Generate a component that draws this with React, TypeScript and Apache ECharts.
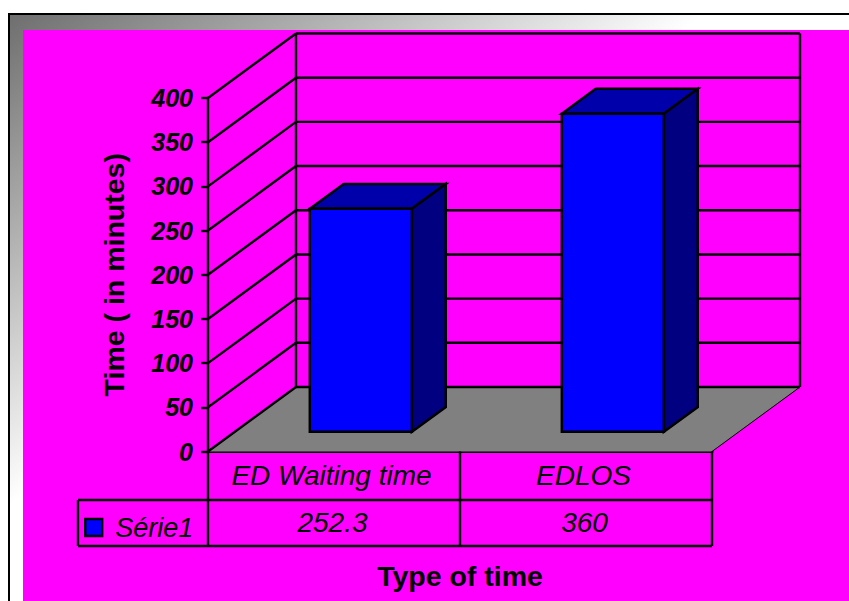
import React, { useEffect, useRef } from "react";
import * as echarts from "echarts";

const categories = ["ED Waiting time", "EDLOS"];
const seriesName = "Série1";
const seriesValues = [252.3, 360];
const valueLabels = ["252.3", "360"];
const yTicks = [0, 50, 100, 150, 200, 250, 300, 350, 400];
const yTitle = "Time ( in minutes)";
const xTitle = "Type of time";

const FONT = "Liberation Sans";
const DEPTH_X = 88;
const DEPTH_Y = -64.5;
const BAR_FRONT = 0.305;
const BAR_BACK = 0.69;
const BAR_WIDTH = 0.405;
const ROW1 = 48.5;
const ROW2 = 94.5;
const LEGEND_W = 130;
const LW = 2.4;

const ln = (x1: number, y1: number, x2: number, y2: number, w = LW) => ({
  type: "line",
  shape: { x1, y1, x2, y2 },
  style: { stroke: "#000", lineWidth: w, fill: "none" },
});

const renderWalls = (params: any, api: any) => {
  const cs = params.coordSys;
  const t = api.value(1);
  const y = api.coord([0, t])[1];
  const l = cs.x;
  const r = cs.x + cs.width;
  const kids: any[] = [];
  if (t === 0) {
    kids.push({
      type: "polygon",
      shape: {
        points: [
          [l, y],
          [l + DEPTH_X, y + DEPTH_Y],
          [r + DEPTH_X, y + DEPTH_Y],
          [r, y],
        ],
      },
      style: { fill: "#808080" },
    });
    kids.push(ln(r, y, r + DEPTH_X, y + DEPTH_Y, 1));
    kids.push(ln(l + DEPTH_X, cs.y + DEPTH_Y, l + DEPTH_X, y + DEPTH_Y));
    kids.push(ln(r + DEPTH_X, cs.y + DEPTH_Y, r + DEPTH_X, y + DEPTH_Y));
  }
  kids.push(ln(l, y, l + DEPTH_X, y + DEPTH_Y));
  kids.push(ln(l + DEPTH_X, y + DEPTH_Y, r + DEPTH_X, y + DEPTH_Y));
  return { type: "group", children: kids };
};

const renderTable = (params: any, api: any) => {
  const cs = params.coordSys;
  const i = api.value(0);
  const c = api.coord([i, 0]);
  const band = api.size([1, 0])[0];
  const y0 = c[1];
  const left = c[0] - band / 2;
  const right = c[0] + band / 2;
  const kids: any[] = [
    ln(right, y0, right, y0 + ROW2),
    ln(left, y0 + ROW1, right, y0 + ROW1),
    ln(left, y0 + ROW2, right, y0 + ROW2),
    {
      type: "text",
      x: c[0] - 1.5,
      y: y0 + (ROW1 + ROW2) / 2 - 1,
      style: {
        text: valueLabels[i],
        fontSize: 28,
        fontStyle: "italic",
        fontFamily: FONT,
        fill: "#000",
        align: "center",
        verticalAlign: "middle",
      },
    },
  ];
  if (i === 0) {
    kids.push(ln(left, y0, left, y0 + ROW2));
    kids.push(ln(cs.x - LEGEND_W, y0 + ROW1, left, y0 + ROW1));
    kids.push(ln(cs.x - LEGEND_W, y0 + ROW2, left, y0 + ROW2));
    kids.push(ln(cs.x - LEGEND_W, y0 + ROW1, cs.x - LEGEND_W, y0 + ROW2));
  }
  return { type: "group", children: kids };
};

const renderBars = (_params: any, api: any) => {
  const i = api.value(0);
  const base = api.coord([i, 0]);
  const top = api.coord([i, api.value(1)]);
  const w = api.size([1, 0])[0] * BAR_WIDTH;
  const fx = DEPTH_X * BAR_FRONT;
  const fy = DEPTH_Y * BAR_FRONT;
  const bx = DEPTH_X * BAR_BACK;
  const by = DEPTH_Y * BAR_BACK;
  const x1 = base[0] - w / 2;
  const x2 = base[0] + w / 2;
  const stroke = { stroke: "#000", lineWidth: 2.5, lineJoin: "miter" };
  return {
    type: "group",
    children: [
      {
        type: "polygon",
        shape: {
          points: [
            [x1 + fx, top[1] + fy],
            [x1 + bx, top[1] + by],
            [x2 + bx, top[1] + by],
            [x2 + fx, top[1] + fy],
          ],
        },
        style: { fill: "#0000AA", ...stroke },
      },
      {
        type: "polygon",
        shape: {
          points: [
            [x2 + fx, top[1] + fy],
            [x2 + bx, top[1] + by],
            [x2 + bx, base[1] + by],
            [x2 + fx, base[1] + fy],
          ],
        },
        style: { fill: "#000080", ...stroke },
      },
      {
        type: "rect",
        shape: { x: x1 + fx, y: top[1] + fy, width: w, height: base[1] - top[1] },
        style: { fill: "#0000FF", ...stroke },
      },
    ],
  };
};

export default function App() {
  const ref = useRef<HTMLDivElement>(null);
  useEffect(() => {
    document.body.style.margin = "0";
    const chart = echarts.init(ref.current!, undefined, { renderer: "svg" });
    chart.setOption({
      animation: false,
      backgroundColor: "#ffffff",
      textStyle: { fontFamily: FONT },
      graphic: [
        {
          type: "rect",
          z: -20,
          shape: { x: 9, y: 14, width: 850, height: 600 },
          style: {
            stroke: "#000",
            lineWidth: 2,
            fill: {
              type: "linear",
              x: 0,
              y: 0,
              x2: 1,
              y2: 1,
              colorStops: [
                { offset: 0, color: "#6e6e6e" },
                { offset: 0.41, color: "#ffffff" },
                { offset: 1, color: "#ffffff" },
              ],
            },
          },
        },
        {
          type: "rect",
          z: -10,
          shape: { x: 23, y: 30, width: 826, height: 571 },
          style: { fill: "#FF00FF" },
        },
      ],
      grid: { left: 208, top: 98, width: 504, height: 353.5, containLabel: false, outerBoundsMode: "none" },
      legend: {
        data: [seriesName],
        left: 84,
        top: 514,
        padding: 0,
        icon: "rect",
        itemWidth: 17,
        itemHeight: 17,
        itemStyle: { borderColor: "#000", borderWidth: 2.4 },
        textStyle: {
          fontSize: 27,
          fontStyle: "italic",
          fontFamily: FONT,
          color: "#000",
          padding: [0, 0, 0, 8],
        },
      },
      xAxis: {
        type: "category",
        data: categories,
        name: xTitle,
        nameLocation: "middle",
        nameGap: 110,
        nameMoveOverlap: false,
        nameTextStyle: { fontSize: 28.5, fontWeight: "bold", fontFamily: FONT, color: "#000" },
        axisLine: { show: true, lineStyle: { color: "#000", width: 3 } },
        axisTick: { show: false },
        axisLabel: {
          margin: 10,
          interval: 0,
          hideOverlap: false,
          padding: [0, 5, 0, 0],
          fontSize: 28,
          fontStyle: "italic",
          fontFamily: FONT,
          color: "#000",
        },
        splitLine: { show: false },
      },
      yAxis: {
        type: "value",
        min: 0,
        max: 400,
        interval: 50,
        name: yTitle,
        nameLocation: "middle",
        nameRotate: 90,
        nameGap: 80,
        nameMoveOverlap: false,
        nameTextStyle: { fontSize: 28.5, fontWeight: "bold", fontFamily: FONT, color: "#000" },
        axisLine: { show: true, lineStyle: { color: "#000", width: 2.4 } },
        axisTick: { show: true, length: 7, lineStyle: { color: "#000", width: 2.4 } },
        axisLabel: { margin: 15, fontSize: 25, fontWeight: "bold", fontStyle: "italic", fontFamily: FONT, color: "#000" },
        splitLine: { show: false },
      },
      series: [
        {
          type: "custom",
          name: "walls",
          z: 2,
          silent: true,
          renderItem: renderWalls,
          encode: { x: 0, y: 1 },
          data: yTicks.map((t) => [categories[0], t]),
        },
        {
          type: "custom",
          name: "table",
          z: 3,
          silent: true,
          renderItem: renderTable,
          encode: { x: 0, y: 1 },
          data: categories.map((c, i) => [c, seriesValues[i]]),
        },
        {
          type: "custom",
          name: seriesName,
          z: 4,
          silent: true,
          itemStyle: { color: "#0000FF" },
          renderItem: renderBars,
          encode: { x: 0, y: 1 },
          data: categories.map((c, i) => [c, seriesValues[i]]),
        },
      ],
    });
    return () => chart.dispose();
  }, []);
  return <div ref={ref} style={{ width: 849, height: 601 }} />;
}
